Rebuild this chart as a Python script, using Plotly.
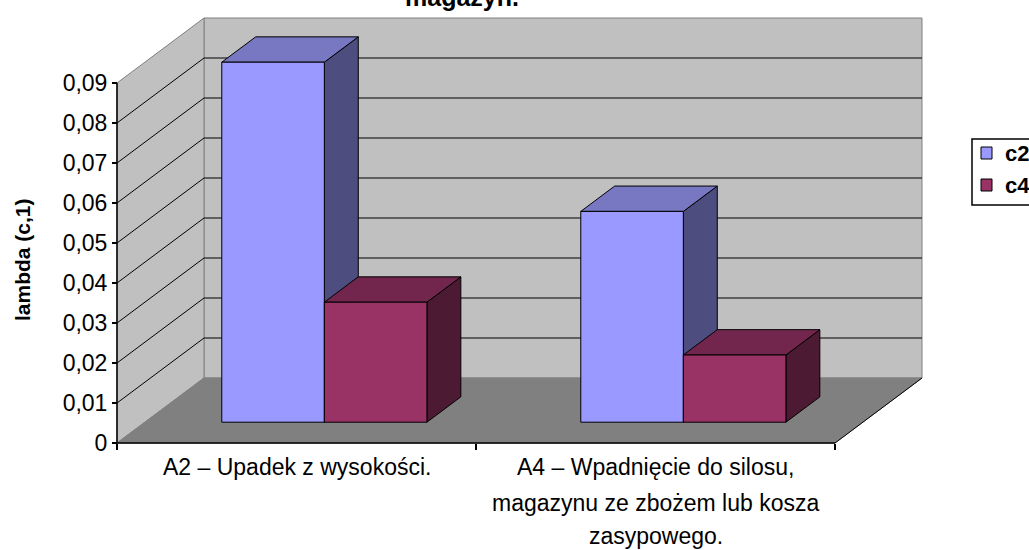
import plotly.graph_objects as go

# ---------------- data ----------------
category_lines = [
    ["A2 – Upadek z wysokości."],
    ["A4 – Wpadnięcie do silosu,", "magazynu ze zbożem lub kosza", "zasypowego."],
]
series_names = ["c2", "c4"]
c2_values = [0.09, 0.0527]
c4_values = [0.030, 0.0168]
y_tick_values = [0, 0.01, 0.02, 0.03, 0.04, 0.05, 0.06, 0.07, 0.08, 0.09]
y_tick_labels = ["0", "0,01", "0,02", "0,03", "0,04", "0,05", "0,06", "0,07", "0,08", "0,09"]
y_title = "lambda (c,1)"
title_text = "magazyn."

# ---------------- styles / geometry ----------------
W, H = 1029, 550
X0PX, PXU = 117, 359.0      # pixel of category-axis origin, px per category
Y0PX, PYU = 443, 4000.0     # pixel of value 0, px per value unit
DX, DY = 87 / PXU, 65 / PYU  # depth offset of the back wall
D_FRONT, D_BACK = 0.32, 0.71  # bar depth span
GAP = 1.5                     # gap width relative to bar width
front_cols = ["#9999FF", "#993366"]
top_cols = ["#7777C2", "#73264D"]
side_cols = ["#4D4D80", "#4D1A33"]
WALL, FLOOR, EDGE = "#C0C0C0", "#808080", "#808080"
FONT = "Liberation Sans, Arial, sans-serif"
ymax = y_tick_values[-1]
ncat = len(category_lines)
series_vals = [c2_values, c4_values]


def P(x, v, d):
    return x + d * DX, v + d * DY


def poly(pts, fill, line="black", width=1):
    xs, ys = [], []
    for p in pts + [pts[0]]:
        X, Y = P(*p)
        xs.append(X)
        ys.append(Y)
    return go.Scatter(x=xs, y=ys, mode="lines", fill="toself", fillcolor=fill,
                      line=dict(color=line, width=width), hoverinfo="skip", showlegend=False)


def seg(segs, color="black", width=1):
    xs, ys = [], []
    for a, b in segs:
        for p in (a, b):
            X, Y = P(*p)
            xs.append(X)
            ys.append(Y)
        xs.append(None)
        ys.append(None)
    return go.Scatter(x=xs, y=ys, mode="lines", line=dict(color=color, width=width),
                      hoverinfo="skip", showlegend=False)


fig = go.Figure()
# walls and floor
fig.add_trace(poly([(0, 0, 1), (ncat, 0, 1), (ncat, ymax, 1), (0, ymax, 1)], WALL, EDGE))
fig.add_trace(poly([(0, 0, 0), (0, 0, 1), (0, ymax, 1), (0, ymax, 0)], WALL, EDGE))
fig.add_trace(poly([(0, 0, 0), (ncat, 0, 0), (ncat, 0, 1), (0, 0, 1)], FLOOR, EDGE))
fig.add_trace(seg([((ncat, 0, 0), (ncat, 0, 1))]))
# gridlines
grid = []
for v in y_tick_values[1:-1]:
    grid.append(((0, v, 0), (0, v, 1)))
    grid.append(((0, v, 1), (ncat, v, 1)))
fig.add_trace(seg(grid))
# axis lines
fig.add_trace(seg([((0, 0, 0), (0, ymax, 0)), ((0, 0, 0), (ncat, 0, 0))], width=1.5))

# bars
nser = len(series_vals)
bw = 1.0 / (nser + GAP)
for i in range(ncat):
    for j in range(nser):
        v = series_vals[j][i]
        xl = i + GAP * bw / 2 + j * bw
        xr = xl + bw
        fig.add_trace(poly([(xr, 0, D_FRONT), (xr, 0, D_BACK), (xr, v, D_BACK), (xr, v, D_FRONT)], side_cols[j]))
        fig.add_trace(poly([(xl, v, D_FRONT), (xr, v, D_FRONT), (xr, v, D_BACK), (xl, v, D_BACK)], top_cols[j]))
        fig.add_trace(poly([(xl, 0, D_FRONT), (xr, 0, D_FRONT), (xr, v, D_FRONT), (xl, v, D_FRONT)], front_cols[j]))

annotations = []
# category labels
line_ys = [467, 503, 536]
for i, lines in enumerate(category_lines):
    for k, t in enumerate(lines):
        annotations.append(dict(x=i + 0.5, xref="x", y=1 - line_ys[k] / H, yref="paper",
                                text=t, showarrow=False, xanchor="center", yanchor="middle",
                                font=dict(family=FONT, size=23, color="black")))
# y title
annotations.append(dict(x=23 / W, xref="paper", y=1 - 260 / H, yref="paper", text="<b>%s</b>" % y_title,
                        textangle=-90, showarrow=False, xanchor="center", yanchor="middle",
                        font=dict(family=FONT, size=21, color="black")))
# title (cut off at top)
annotations.append(dict(x=462 / W, xref="paper", y=1, yref="paper", text="<b>%s</b>" % title_text,
                        showarrow=False, yanchor="bottom", yshift=-13,
                        font=dict(family=FONT, size=25, color="black")))
# legend
shapes = [dict(type="rect", xref="paper", yref="paper", x0=972 / W, x1=1045 / W,
               y0=1 - 205 / H, y1=1 - 139 / H, line=dict(color="black", width=1.5), fillcolor="white")]
for j, name in enumerate(series_names):
    cy = 153 + j * 32
    shapes.append(dict(type="rect", xref="paper", yref="paper", x0=981 / W, x1=992 / W,
                       y0=1 - (cy + 6) / H, y1=1 - (cy - 6) / H, line=dict(color="black", width=1),
                       fillcolor=front_cols[j]))
    annotations.append(dict(x=1003 / W, xref="paper", y=1 - cy / H, yref="paper", text="<b>%s</b>" % name,
                            showarrow=False, xanchor="left", yanchor="middle",
                            font=dict(family=FONT, size=22, color="black")))

fig.update_layout(
    width=W, height=H, margin=dict(l=0, r=0, t=0, b=0),
    paper_bgcolor="white", plot_bgcolor="white", showlegend=False,
    xaxis=dict(range=[-X0PX / PXU, (W - X0PX) / PXU], showgrid=False, zeroline=False, showline=False,
               tickvals=list(range(ncat + 1)), ticktext=[""] * (ncat + 1), ticks="outside", ticklen=6,
               tickcolor="black", tickwidth=1.5, anchor="free", position=(H - Y0PX) / H, fixedrange=True),
    yaxis=dict(range=[-(H - Y0PX) / PYU, Y0PX / PYU], showgrid=False, zeroline=False, showline=False,
               tickvals=y_tick_values, ticktext=y_tick_labels, ticks="outside", ticklen=5,
               tickcolor="black", tickwidth=1.5, anchor="free", position=X0PX / W,
               tickfont=dict(family=FONT, size=23, color="black"), fixedrange=True),
    annotations=annotations, shapes=shapes,
)
fig.write_html("out.html", config={"displayModeBar": False},
               post_script="document.body.style.margin='0';document.body.style.overflow='hidden';")
